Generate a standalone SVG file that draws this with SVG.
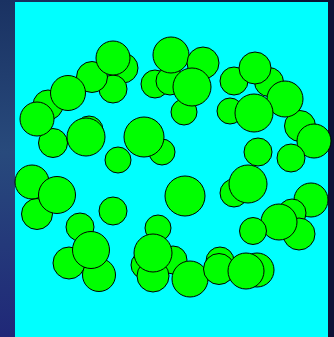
<svg xmlns="http://www.w3.org/2000/svg" width="334" height="337" viewBox="0 0 334 337">
<defs>
<linearGradient id="bgL" x1="0" y1="0" x2="0" y2="1">
<stop offset="0" stop-color="#1a3262"/>
<stop offset="0.45" stop-color="#284a7c"/>
<stop offset="1" stop-color="#202878"/>
</linearGradient>
<linearGradient id="bgT" x1="0" y1="0" x2="1" y2="0">
<stop offset="0" stop-color="#1a3262"/>
<stop offset="1" stop-color="#0a0f30"/>
</linearGradient>
<style>
circle{fill:#00ff00;stroke:#000;stroke-width:1}
</style>
</defs>
<rect x="0" y="0" width="334" height="337" fill="url(#bgT)"/>
<rect x="0" y="0" width="15" height="337" fill="url(#bgL)"/>
<rect x="328" y="0" width="6" height="337" fill="#0c1236"/>
<rect x="15" y="2" width="313" height="335" fill="#00ffff"/>
<g id="circles">
<circle cx="123" cy="68" r="15"/>
<circle cx="113" cy="89" r="14"/>
<circle cx="92" cy="77" r="15.5"/>
<circle cx="113" cy="58" r="17"/>
<circle cx="48" cy="105" r="15"/>
<circle cx="68" cy="93" r="17.5"/>
<circle cx="53" cy="143" r="14.5"/>
<circle cx="37" cy="119" r="17"/>
<circle cx="89" cy="130" r="14"/>
<circle cx="86" cy="137" r="19"/>
<circle cx="118" cy="160" r="13"/>
<circle cx="162" cy="152" r="13"/>
<circle cx="144" cy="137" r="20"/>
<circle cx="155" cy="84" r="14"/>
<circle cx="170" cy="81" r="14"/>
<circle cx="171" cy="55" r="18"/>
<circle cx="203" cy="63" r="16"/>
<circle cx="184" cy="112" r="13"/>
<circle cx="192" cy="87" r="19"/>
<circle cx="269" cy="82" r="14.5"/>
<circle cx="234" cy="81" r="14"/>
<circle cx="255" cy="68" r="16"/>
<circle cx="300" cy="126" r="15.5"/>
<circle cx="285" cy="99" r="18"/>
<circle cx="314" cy="141" r="17"/>
<circle cx="230" cy="111" r="13"/>
<circle cx="254" cy="113" r="19"/>
<circle cx="258" cy="152" r="14"/>
<circle cx="291" cy="158" r="14"/>
<circle cx="234" cy="193" r="14"/>
<circle cx="248" cy="184" r="19"/>
<circle cx="311" cy="200" r="17"/>
<circle cx="292" cy="213" r="14"/>
<circle cx="299" cy="234" r="16"/>
<circle cx="279" cy="222" r="18"/>
<circle cx="253" cy="231" r="13.5"/>
<circle cx="185" cy="196" r="20"/>
<circle cx="32" cy="182" r="17"/>
<circle cx="37" cy="214" r="15.5"/>
<circle cx="57" cy="195" r="18.5"/>
<circle cx="113" cy="211" r="14"/>
<circle cx="80" cy="227" r="14"/>
<circle cx="69" cy="263" r="16"/>
<circle cx="99" cy="275" r="16.5"/>
<circle cx="91" cy="250" r="18.5"/>
<circle cx="158" cy="228" r="13"/>
<circle cx="145" cy="265" r="14"/>
<circle cx="173" cy="260" r="14"/>
<circle cx="153" cy="276" r="16"/>
<circle cx="153" cy="253" r="19"/>
<circle cx="190" cy="279" r="18"/>
<circle cx="220" cy="261" r="14"/>
<circle cx="219" cy="269" r="15.5"/>
<circle cx="257" cy="270" r="17"/>
<circle cx="246" cy="271" r="18"/>
</g>
</svg>
